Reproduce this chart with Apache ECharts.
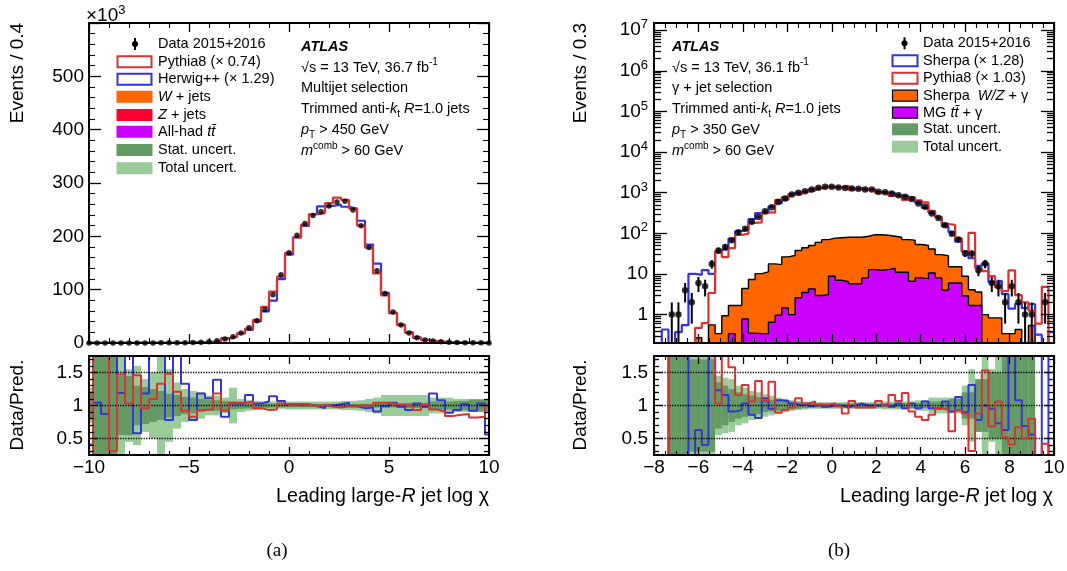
<!DOCTYPE html>
<html>
<head>
<meta charset="utf-8">
<script src="https://cdn.jsdelivr.net/npm/echarts@6.0.0/dist/echarts.min.js"></script>
<style>
html,body{margin:0;padding:0;background:#fff;}
#chart{width:1067px;height:571px;}
</style>
</head>
<body>
<div id="chart"></div>
<script>
// ================= Panel (a): multijet selection (bin width 0.4) =================
const aBins = [-10,-9.6,-9.2,-8.8,-8.4,-8,-7.6,-7.2,-6.8,-6.4,-6,-5.6,-5.2,-4.8,-4.4,-4,-3.6,-3.2,-2.8,-2.4,-2,-1.6,-1.2,-0.8,-0.4,
  0,0.4,0.8,1.2,1.6,2,2.4,2.8,3.2,3.6,4,4.4,4.8,5.2,5.6,6,6.4,6.8,7.2,7.6,8,8.4,8.8,9.2,9.6,10];
// events in thousands
const aData = [0.05,0.05,0.06,0.07,0.08,0.1,0.12,0.15,0.2,0.25,0.3,0.4,0.55,0.8,1.5,2.4,4.3,7.5,11.8,18.8,28.7,41.8,63,90.6,128,
  169,202,224,239,246,257,264.5,265.7,249.5,220,179,135.6,93,58,33.8,18.8,10,5.6,3.7,2.2,1.4,0.9,0.6,0.4,0.3,0.2];
const aPythia = [0.06,0.02,0.024,0.23,0.054,0.097,0.082,0.156,0.18,0.19,0.2,0.33,0.6,0.96,1.61,2.55,3.64,8.15,11.35,18.08,27.08,43.54,67.74,96.38,124.3,
  169,198,221.8,241.4,243.6,262.2,272.7,268.4,252,220,179,130.4,89.4,56.9,33.5,19,10.75,5.5,3.9,2.4,1.67,1.05,0.69,0.49,0.36,0.2];
const aHerwig = [0.12,0.048,0.069,0.03,0.067,0.04,0.21,0.13,0.08,0.1,0.38,0.16,0.41,1.03,1.27,2.16,3.09,9.04,11.46,18.25,24.74,40.58,59.43,79.47,119.6,
  165.7,198,219.6,241.4,256.3,257,259.3,255.5,252,229.2,184.5,149,93.9,55.8,34.5,20.2,9.7,5.7,3.14,2.04,1.57,0.97,0.59,0.43,0.29,0.36];
const aWjets = [0,0,0,0,0,0,0,0,0,0,0,0,0,0,0,0,0,0,0,0,0,0,0,0,0,0,0,
  0.4,0.6,0.8,1.0,1.1,1.2,1.2,1.1,1.0,0.8,0.6,0.4,0.2,0,0,0,0,0,0,0,0,0,0,0];
const aZjets = [0,0,0,0,0,0,0,0,0,0,0,0,0,0,0,0,0,0,0,0,0,0,0,0,0,0,0,0,0,
  0.3,0.3,0.3,0.3,0.3,0.3,0.3,0.3,0.3,0,0,0,0,0,0,0,0,0,0,0,0,0];
const aTtbar = [0,0,0,0,0,0,0,0,0,0,0,0,0,0,0,0,0,0,0,0,0,0,0,0,0,0,0,0,0,0,0,0,0,
  1.4,1.6,1.6,1.5,1.3,1.0,0,0,0,0,0,0,0,0,0,0,0,0];
const aRatioPythia = [0,2.5,2.5,0.31,1.47,1.03,1.46,0.96,1.1,1.33,1.48,1.21,0.92,0.83,0.93,0.94,1.18,0.92,1.04,1.04,1.06,0.96,0.93,0.94,1.03,
  1.0,1.02,1.01,0.99,1.01,0.98,0.97,0.99,0.99,1.0,1.0,1.04,1.04,1.02,1.01,0.99,0.93,1.01,0.94,0.91,0.84,0.86,0.87,0.82,0.83,1.0];
const aRatioHerwig = [0.41,1.04,0.87,2.5,1.19,2.5,0.58,1.18,2.5,2.5,0.78,2.5,1.33,0.78,1.18,1.11,1.39,0.83,1.03,1.03,1.16,1.03,1.06,1.14,1.07,
  1.02,1.02,1.02,0.99,0.96,1.0,1.02,1.04,0.99,0.96,0.97,0.91,0.99,1.04,0.98,0.93,1.03,0.98,1.18,1.08,0.89,0.93,1.02,0.92,1.03,0.56];
const aStatUnc = [0.2,0.9,0.9,0.9,0.45,0.45,0.3,0.28,0.25,0.22,0.18,0.16,0.13,0.12,0.1,0.08,0.08,0.07,0.06,0.05,0.045,0.04,0.035,0.03,0.03,
  0.025,0.025,0.025,0.025,0.025,0.025,0.025,0.025,0.025,0.025,0.025,0.03,0.03,0.03,0.03,0.04,0.04,0.04,0.06,0.06,0.06,0.07,0.07,0.09,0.09,0.09];
const aTotalUnc = [0.27,0.9,0.9,0.9,0.9,0.55,0.6,0.4,0.5,0.9,0.55,0.35,0.25,0.22,0.2,0.15,0.15,0.12,0.27,0.1,0.08,0.07,0.06,0.06,0.05,
  0.06,0.06,0.06,0.06,0.06,0.06,0.06,0.07,0.07,0.08,0.1,0.12,0.16,0.16,0.16,0.16,0.16,0.16,0.12,0.12,0.12,0.1,0.1,0.1,0.1,0.1];

// ================= Panel (b): gamma + jet selection (bin width 0.3) =================
const bBins = [-8.1,-7.8,-7.5,-7.2,-6.9,-6.6,-6.3,-6,-5.7,-5.4,-5.1,-4.8,-4.5,-4.2,-3.9,-3.6,-3.3,-3,-2.7,-2.4,-2.1,-1.8,-1.5,-1.2,-0.9,-0.6,-0.3,
  0,0.3,0.6,0.9,1.2,1.5,1.8,2.1,2.4,2.7,3,3.3,3.6,3.9,4.2,4.5,4.8,5.1,5.4,5.7,6,6.3,6.6,6.9,7.2,7.5,7.8,8.1,8.4,8.7,9,9.3,9.6,9.9];
const bData = [null,null,null,1,1,4,2,6,5,17.7,37.8,46,68,106,129,192,254,350,440,594,720,900,1000,1090,1190,1320,1395,
  1395,1350,1300,1265,1250,1190,1190,1050,1030,960,870,790,700,540,450,307,240,158,98,70,32,32,12.3,18,6,5,2,5,2,1,1,null,2,null];
const bDataErr = [0,0,0,1,1,2,1.4,2.4,2.2,4.2,6.1,6.8,8.2,10.3,11.4,13.9,15.9,18.7,21,24.4,26.8,30,31.6,33,34.5,36.3,37.3,
  37.3,36.7,36,35.6,35.4,34.5,34.5,32.4,32.1,31,29.5,28.1,26.5,23.2,21.2,17.5,15.5,12.6,9.9,8.4,5.7,5.7,3.5,4.2,2.4,2.2,1.4,2.2,1.4,1,1,0,1.4,0];
const bSherpa = [0.01,0.01,0.43,0.1,0.37,0.55,10,9.5,12.5,10,34,39.7,74.7,114,125,223,313.6,315,463,550,673,874,1000,1058,1202,1294,1423,
  1395,1350,1340,1265,1214,1190,1190,1050,1010,980,845,823,680,562,425,320,253,149,108,62,35.6,24.4,15.8,18,6.3,6.8,3.2,1.4,1.85,1.45,1.8,0.32,0.15,0.37];
const bPythia = [0.01,0.01,0.01,0.01,0.01,0.01,0.01,0.47,0.62,3.4,36.7,26,43,91,98,181,185,327,323,667,774,928,900,1058,1123,1307,1381,
  1354,1364,1477,1182,1289,1227,1227,981,1030,828,813,664,769,651,577,357,250,170,161,75,36,103,14,11.8,8.8,4.7,3.8,12.2,3.0,2.0,1.25,0.6,4.8,0.1];
const bWZgamma = [0.001,0.001,0.001,0.001,0.001,0.001,0.001,0.27,0.001,0.56,0.34,0.94,1.67,1.67,4.4,7.3,10.2,11.3,17.7,17,26.4,28.5,37.7,44,50,60,70,
  76,78,80,80,80,85,93,92,90,85,80,70,68,53,50,41,30,28,15,15,8.8,4.1,3.6,1.0,0.83,0.83,0.34,0.34,0.43,0.001,0.54,0.001,0.001,0.001];
const bTtgamma = [0.001,0.001,0.001,0.001,0.001,0.001,0.001,0.001,0.001,0.001,0.001,0.001,0.34,0.001,0.78,0.35,0.34,0.34,0.65,0.96,1.46,1.0,2.6,3.5,4.3,2.94,3.1,
  8.8,7.0,6.5,5.7,5.7,8.0,12.8,12.3,12.8,13.8,11,11,6.6,8,7.7,10.6,8,4.0,6,6,2.9,1.67,1.67,0.001,0.001,0.001,0.001,0.001,0.001,0.001,0.001,0.001,0.001,0.001];
const bRatioSherpa = [0,0,0,2.5,2.5,2.5,0.2,0.63,0.4,2.5,1.23,1.16,0.91,0.93,1.03,0.86,0.81,1.11,0.95,1.08,1.07,1.03,1.0,1.03,0.99,1.02,0.98,
  1.0,1.0,0.97,1.0,1.03,1.0,1.0,1.0,1.02,0.98,1.03,0.96,1.03,0.96,1.06,0.96,0.95,1.06,0.91,1.13,0.9,1.31,0.78,1.0,0.95,0.73,0.63,2.5,1.08,0.69,0.56,0,2.5,0];
const bRatioPythia = [0,0,0,2.5,2.5,2.5,2.5,2.5,2.5,2.5,1.03,2.5,1.58,1.16,1.31,1.06,1.37,1.07,1.36,0.89,0.93,0.97,1.11,1.03,1.06,1.01,1.01,
  1.03,0.99,0.88,1.07,0.97,0.97,0.97,1.07,1.0,1.16,1.07,1.19,0.91,0.83,0.78,0.86,0.96,0.93,0.61,0.93,0.88,0.31,0.88,1.53,0.68,1.06,0.52,0.41,0.67,0.5,0.8,0,0.42,0];
const bStatUnc = [0,0,0,0.9,0.9,0.9,0.7,0.7,0.7,0.7,0.35,0.3,0.25,0.2,0.17,0.15,0.13,0.1,0.09,0.08,0.07,0.06,0.05,0.04,0.03,0.03,0.03,
  0.03,0.03,0.03,0.03,0.03,0.03,0.03,0.03,0.03,0.03,0.03,0.04,0.04,0.04,0.04,0.06,0.06,0.06,0.1,0.1,0.2,0.2,0.4,0.4,0.5,0.5,0.75,0.75,0.75,0.75,0.75,0,0,0];
const bTotalUnc = [0,0,0,0.9,0.9,0.9,0.75,0.8,0.8,0.8,0.45,0.42,0.4,0.3,0.27,0.22,0.2,0.17,0.15,0.12,0.1,0.08,0.07,0.06,0.05,0.05,0.05,
  0.05,0.05,0.05,0.05,0.05,0.05,0.05,0.05,0.06,0.06,0.06,0.06,0.06,0.08,0.08,0.12,0.12,0.12,0.12,0.12,0.3,0.55,0.35,0.75,0.55,0.85,0.85,0.85,0.85,0.85,0.85,0,0,0];

// ================= tick labels =================
const aXTicks = [-10, -5, 0, 5, 10];
const bXTicks = [-8, -6, -4, -2, 0, 2, 4, 6, 8, 10];
const aYTicks = [0, 100, 200, 300, 400, 500];
const bLogTicks = [1, 10, 100, 1e3, 1e4, 1e5, 1e6, 1e7];
const ratioTicks = [0.5, 1, 1.5];
const ratioMinorTicks = [0.3,0.4,0.6,0.7,0.8,0.9,1.1,1.2,1.3,1.4,1.6,1.7];
const ratioRefLines = [0.5, 1, 1.5];

// ================= helpers =================
const FONT = '"Liberation Sans", Arial, Helvetica, sans-serif';
const RED = '#d83232', BLUE = '#3434d8', ORANGE = '#ff6600', ZRED = '#ff0033', MAGENTA = '#cc00ff';
const DKGREEN = '#649a64', LTGREEN = '#99cc99';

const bLogMinor = [];
[0.1, 1, 10, 100, 1e3, 1e4, 1e5, 1e6].forEach(d => { for (let m = 2; m <= 9; m++) { const v = m * d; if (v > 0.2 && v < 1.5e7) bLogMinor.push(v); } });

function stepPoints(bins, vals) {
  const hw = (bins[1] - bins[0]) / 2;
  const pts = bins.map((c, i) => [c - hw, vals[i]]);
  pts.push([bins[bins.length - 1] + hw, vals[vals.length - 1]]);
  return pts;
}
function histLine(xi, yi, bins, vals, color, width, z, fill, outline) {
  const s = {
    type: 'line', xAxisIndex: xi, yAxisIndex: yi, step: 'end', symbol: 'none', showSymbol: false,
    clip: true, silent: true, z: z, data: stepPoints(bins, vals),
    lineStyle: { color: outline || color, width: width }
  };
  if (fill) s.areaStyle = { color: fill, opacity: 1, origin: 'start' };
  return s;
}
function band(xi, yi, bins, half, color, z, extra) {
  const w = bins[1] - bins[0];
  const s = {
    type: 'custom', xAxisIndex: xi, yAxisIndex: yi, z: z, silent: true,
    data: bins.map((c, i) => [c, half[i]]),
    renderItem: function (params, api) {
      const c = api.value(0), h = api.value(1);
      if (!h) return null;
      const p1 = api.coord([c - w / 2, 1 + h]);
      const p2 = api.coord([c + w / 2, 1 - h]);
      const shape = echarts.graphic.clipRectByRect(
        { x: p1[0], y: p1[1], width: p2[0] - p1[0], height: p2[1] - p1[1] },
        { x: params.coordSys.x, y: params.coordSys.y, width: params.coordSys.width, height: params.coordSys.height });
      if (!shape) return null;
      return { type: 'rect', shape: shape, style: { fill: color } };
    }
  };
  return Object.assign(s, extra || {});
}
function errorBars(xi, yi, bins, vals, errs, z) {
  const data = [];
  bins.forEach((c, i) => { if (vals[i] != null && errs[i]) data.push([c, vals[i], errs[i]]); });
  return {
    type: 'custom', xAxisIndex: xi, yAxisIndex: yi, z: z, silent: true, data: data,
    renderItem: function (params, api) {
      const x = api.value(0), y = api.value(1), e = api.value(2);
      const cs = params.coordSys;
      const lo = Math.max(y - e, 1e-4);
      const p1 = api.coord([x, lo]), p2 = api.coord([x, y + e]);
      const clampY = v => Math.min(Math.max(v, cs.y), cs.y + cs.height);
      return { type: 'line', shape: { x1: p1[0], y1: clampY(p1[1]), x2: p2[0], y2: clampY(p2[1]) }, style: { stroke: '#000', lineWidth: 2 } };
    }
  };
}
function dataPoints(xi, yi, bins, vals, size, z) {
  const d = [];
  bins.forEach((c, i) => { if (vals[i] != null) d.push([c, vals[i]]); });
  return { type: 'scatter', xAxisIndex: xi, yAxisIndex: yi, z: z, silent: true, data: d, symbol: 'circle', symbolSize: size, itemStyle: { color: '#000' }, clip: true };
}
const fmtNum = v => (v < 0 ? '\u2212' + (-v) : String(v));
const labelStyle = { fontSize: 19, fontFamily: FONT, color: '#000' };

function xAx(gridIndex, pos, min, max, interval, minorSplit, labels, tl, ml) {
  return {
    type: 'value', gridIndex: gridIndex, position: pos, min: min, max: max, interval: interval, z: 10,
    axisLine: { show: true, onZero: false, lineStyle: { color: '#000', width: 2 } },
    axisTick: { show: true, inside: true, length: tl, lineStyle: { color: '#000', width: 1.3 } },
    minorTick: { show: true, splitNumber: minorSplit, length: ml, lineStyle: { color: '#000', width: 1.1 } },
    splitLine: { show: false }, minorSplitLine: { show: false },
    axisLabel: labels ? Object.assign({ show: true, margin: 3, formatter: fmtNum }, labelStyle) : { show: false }
  };
}
function yLin(gridIndex, pos, labels) {
  return {
    type: 'value', gridIndex: gridIndex, position: pos, min: 0, max: 600, interval: 100, z: 10,
    axisLine: { show: true, onZero: false, lineStyle: { color: '#000', width: 2 } },
    axisTick: { show: true, inside: true, length: 12, lineStyle: { color: '#000', width: 1.3 } },
    minorTick: { show: true, splitNumber: 5, length: 6, lineStyle: { color: '#000', width: 1.1 } },
    splitLine: { show: false }, minorSplitLine: { show: false },
    axisLabel: labels ? Object.assign({ show: true, margin: 5, customValues: aYTicks }, labelStyle) : { show: false }
  };
}
function yCustom(gridIndex, pos, type, min, max, ticks, len, labels, formatter, rich) {
  const ax = {
    type: type, gridIndex: gridIndex, position: pos, min: min, max: max, z: 10,
    axisLine: { show: true, onZero: false, lineStyle: { color: '#000', width: 2 } },
    axisTick: { show: true, inside: true, length: len, customValues: ticks, lineStyle: { color: '#000', width: 1.3 } },
    minorTick: { show: false }, splitLine: { show: false }, minorSplitLine: { show: false },
    axisLabel: { show: false }
  };
  if (type === 'log') ax.logBase = 10;
  if (labels) ax.axisLabel = Object.assign({ show: true, margin: 6, customValues: ticks, formatter: formatter, rich: rich }, labelStyle);
  return ax;
}
const logFmt = v => {
  const e = Math.round(Math.log10(v));
  if (Math.abs(Math.log10(v) - e) > 1e-6) return '';
  if (e === 0) return '{b|1}';
  if (e === 1) return '{b|10}';
  return '{b|10}{s|' + e + '}';
};
const logRich = {
  b: { fontSize: 19, fontFamily: FONT, color: '#000', lineHeight: 24 },
  s: { fontSize: 13, fontFamily: FONT, color: '#000', lineHeight: 13, verticalAlign: 'top' }
};
const ratioFmt = v => String(v);

// ---------- text (graphic) ----------
function rich(size) {
  const base = { fontSize: size, fontFamily: FONT, fill: '#000', lineHeight: size + 6 };
  return {
    n: base,
    i: Object.assign({}, base, { fontStyle: 'italic' }),
    ib: Object.assign({}, base, { fontStyle: 'italic', fontWeight: 'bold' }),
    sup: { fontSize: Math.round(size * 0.68), fontFamily: FONT, fill: '#000', lineHeight: Math.round(size * 0.68), verticalAlign: 'top' },
    sub: { fontSize: Math.round(size * 0.68), fontFamily: FONT, fill: '#000', lineHeight: Math.round(size * 0.5), verticalAlign: 'bottom' },
    serif: { fontSize: size, fontFamily: '"Liberation Serif", "Times New Roman", serif', fill: '#000', lineHeight: size + 6 }
  };
}
function T(x, y, text, size, align, rot) {
  const el = {
    type: 'text', x: x, y: y, z: 100, silent: true,
    style: { text: text, rich: rich(size), align: align || 'left', verticalAlign: 'middle', fill: '#000', font: size + 'px ' + FONT }
  };
  if (rot) el.rotation = rot;
  return el;
}
function box(x, y, w, h, fill, stroke, lw) {
  return { type: 'rect', z: 100, silent: true, shape: { x: x, y: y, width: w, height: h }, style: { fill: fill, stroke: stroke || null, lineWidth: lw || 0 } };
}
function dataMarker(x, y) {
  return [
    { type: 'line', z: 100, silent: true, shape: { x1: x, y1: y - 6, x2: x, y2: y + 6 }, style: { stroke: '#000', lineWidth: 2 } },
    { type: 'circle', z: 101, silent: true, shape: { cx: x, cy: y, r: 3 }, style: { fill: '#000' } }
  ];
}

const LS = 14.5; // legend/info font size
const graphics = [];
// ---- panel (a) texts ----
graphics.push(T(86, 16, '{n|\u00d710}{sup|3}', 19));
graphics.push(T(18, 73, '{n|Events / 0.4}', 19, 'center', Math.PI / 2));
graphics.push(T(18, 405, '{n|Data/Pred.}', 19, 'center', Math.PI / 2));
graphics.push(T(489, 497, '{n|Leading large-}{i|R}{n| jet log \u03c7}', 19.6, 'right'));
graphics.push(T(277, 551, '{serif|(a)}', 19, 'center'));
[
  '{ib|ATLAS}',
  '{n|\u221as = 13 TeV, 36.7 fb}{sup|-1}',
  '{n|Multijet selection}',
  '{n|Trimmed anti-}{i|k}{sub|t}{n| }{i|R}{n|=1.0 jets}',
  '{i|p}{sub|T}{n| > 450 GeV}',
  '{i|m}{sup|comb}{n| > 60 GeV}'
].forEach((t, i) => graphics.push(T(301, [46.5, 67.5, 88, 109, 130, 151][i], t, LS)));
const aLegY = [44, 61.7, 79.3, 96.7, 115, 131.7, 150, 168.3];
graphics.push(...dataMarker(135, aLegY[0]));
graphics.push(box(117.5, aLegY[1] - 5.5, 34, 11, '#fff', RED, 2));
graphics.push(box(117.5, aLegY[2] - 5.5, 34, 11, '#fff', BLUE, 2));
graphics.push(box(116.5, aLegY[3] - 6, 36, 12, ORANGE));
graphics.push(box(116.5, aLegY[4] - 6, 36, 12, ZRED));
graphics.push(box(116.5, aLegY[5] - 6, 36, 12, MAGENTA));
graphics.push(box(116.5, aLegY[6] - 6, 36, 12, DKGREEN));
graphics.push(box(116.5, aLegY[7] - 6, 36, 12, LTGREEN));
[
  '{n|Data 2015+2016}', '{n|Pythia8 (\u00d7 0.74)}', '{n|Herwig++ (\u00d7 1.29)}', '{i|W}{n| + jets}', '{i|Z}{n| + jets}',
  '{n|All-had }{i|tt\u0304}', '{n|Stat. uncert.}', '{n|Total uncert.}'
].forEach((t, i) => graphics.push(T(158, aLegY[i], t, LS)));

// ---- panel (b) texts ----
graphics.push(T(581, 73, '{n|Events / 0.3}', 19, 'center', Math.PI / 2));
graphics.push(T(581, 405, '{n|Data/Pred.}', 19, 'center', Math.PI / 2));
graphics.push(T(1053, 497, '{n|Leading large-}{i|R}{n| jet log \u03c7}', 19.6, 'right'));
graphics.push(T(839, 551, '{serif|(b)}', 19, 'center'));
[
  '{ib|ATLAS}',
  '{n|\u221as = 13 TeV, 36.1 fb}{sup|-1}',
  '{n|\u03b3 + jet selection}',
  '{n|Trimmed anti-}{i|k}{sub|t}{n| }{i|R}{n|=1.0 jets}',
  '{i|p}{sub|T}{n| > 350 GeV}',
  '{i|m}{sup|comb}{n| > 60 GeV}'
].forEach((t, i) => graphics.push(T(672, [46.5, 67.5, 88, 109, 130, 151][i], t, LS)));
const bLegY = [43.3, 60.7, 78.3, 95.7, 112.7, 129.3, 146.7];
graphics.push(...dataMarker(904.5, bLegY[0]));
graphics.push(box(892.5, bLegY[1] - 5.5, 25, 11, '#fff', BLUE, 2));
graphics.push(box(892.5, bLegY[2] - 5.5, 25, 11, '#fff', RED, 2));
graphics.push(box(892.5, bLegY[3] - 5.5, 25, 11, ORANGE, '#000', 1.2));
graphics.push(box(892.5, bLegY[4] - 5.5, 25, 11, MAGENTA, '#000', 1.2));
graphics.push(box(892, bLegY[5] - 6, 26, 12, DKGREEN));
graphics.push(box(892, bLegY[6] - 6, 26, 12, LTGREEN));
[
  '{n|Data 2015+2016}', '{n|Sherpa (\u00d7 1.28)}', '{n|Pythia8 (\u00d7 1.03)}', '{n|Sherpa  }{i|W/Z}{n| + \u03b3}',
  '{n|MG }{i|tt\u0304}{n| + \u03b3}', '{n|Stat. uncert.}', '{n|Total uncert.}'
].forEach((t, i) => graphics.push(T(923, bLegY[i], t, LS)));

// ================= option =================
const option = {
  animation: false,
  backgroundColor: '#ffffff',
  grid: [
    { left: 89, top: 23, width: 400, height: 320, containLabel: false, outerBoundsMode: 'none' },
    { left: 89, top: 356, width: 400, height: 99, containLabel: false, outerBoundsMode: 'none' },
    { left: 654, top: 23, width: 400, height: 320, containLabel: false, outerBoundsMode: 'none' },
    { left: 654, top: 356, width: 400, height: 99, containLabel: false, outerBoundsMode: 'none' }
  ],
  xAxis: [
    xAx(0, 'bottom', -10, 10, 5, 5, false, 9, 5),
    xAx(0, 'top', -10, 10, 5, 5, false, 9, 5),
    xAx(1, 'bottom', -10, 10, 5, 5, true, 8, 4),
    xAx(1, 'top', -10, 10, 5, 5, false, 8, 4),
    xAx(2, 'bottom', -8, 10, 2, 4, false, 9, 5),
    xAx(2, 'top', -8, 10, 2, 4, false, 9, 5),
    xAx(3, 'bottom', -8, 10, 2, 4, true, 8, 4),
    xAx(3, 'top', -8, 10, 2, 4, false, 8, 4)
  ],
  yAxis: [
    yLin(0, 'left', true),                                                    // 0
    yLin(0, 'right', false),                                                  // 1
    yCustom(1, 'left', 'value', 0.25, 1.75, ratioTicks, 9, true, ratioFmt),   // 2
    yCustom(1, 'left', 'value', 0.25, 1.75, ratioMinorTicks, 5, false),       // 3
    yCustom(1, 'right', 'value', 0.25, 1.75, ratioTicks, 9, false),           // 4
    yCustom(1, 'right', 'value', 0.25, 1.75, ratioMinorTicks, 5, false),      // 5
    yCustom(2, 'left', 'log', 0.2, 1.5e7, bLogTicks, 13, true, logFmt, logRich), // 6
    yCustom(2, 'left', 'log', 0.2, 1.5e7, bLogMinor, 7, false),               // 7
    yCustom(2, 'right', 'log', 0.2, 1.5e7, bLogTicks, 13, false),             // 8
    yCustom(2, 'right', 'log', 0.2, 1.5e7, bLogMinor, 7, false),              // 9
    yCustom(3, 'left', 'value', 0.25, 1.75, ratioTicks, 9, true, ratioFmt),   // 10
    yCustom(3, 'left', 'value', 0.25, 1.75, ratioMinorTicks, 5, false),       // 11
    yCustom(3, 'right', 'value', 0.25, 1.75, ratioTicks, 9, false),           // 12
    yCustom(3, 'right', 'value', 0.25, 1.75, ratioMinorTicks, 5, false)       // 13
  ],
  series: [
    // ---- (a) main ----
    histLine(0, 0, aBins, aWjets, ORANGE, 0, 2, ORANGE),
    histLine(0, 0, aBins, aZjets, ZRED, 0, 2, ZRED),
    histLine(0, 0, aBins, aTtbar, MAGENTA, 0, 2, MAGENTA),
    histLine(0, 0, aBins, aHerwig, BLUE, 2.2, 3),
    histLine(0, 0, aBins, aPythia, RED, 2.2, 4),
    dataPoints(0, 0, aBins, aData, 5.5, 6),
    // ---- (a) ratio ----
    band(2, 2, aBins, aTotalUnc, LTGREEN, 2),
    band(2, 2, aBins, aStatUnc, DKGREEN, 3, {
      markLine: { silent: true, symbol: 'none', label: { show: false }, animation: false,
        lineStyle: { color: '#000', type: 'dotted', width: 1.3 }, data: ratioRefLines.map(v => ({ yAxis: v })) }
    }),
    histLine(2, 2, aBins, aRatioHerwig, BLUE, 2, 4),
    histLine(2, 2, aBins, aRatioPythia, RED, 2, 5),
    // ---- (b) main ----
    histLine(4, 6, bBins, bWZgamma, ORANGE, 1.4, 2, ORANGE, '#000'),
    histLine(4, 6, bBins, bTtgamma, MAGENTA, 1.4, 2, MAGENTA, '#000'),
    histLine(4, 6, bBins, bSherpa, BLUE, 2.2, 3),
    histLine(4, 6, bBins, bPythia, RED, 2.2, 4),
    errorBars(4, 6, bBins, bData, bDataErr, 5),
    dataPoints(4, 6, bBins, bData, 6.5, 6),
    // ---- (b) ratio ----
    band(6, 10, bBins, bTotalUnc, LTGREEN, 2),
    band(6, 10, bBins, bStatUnc, DKGREEN, 3, {
      markLine: { silent: true, symbol: 'none', label: { show: false }, animation: false,
        lineStyle: { color: '#000', type: 'dotted', width: 1.3 }, data: ratioRefLines.map(v => ({ yAxis: v })) }
    }),
    histLine(6, 10, bBins, bRatioSherpa, BLUE, 2, 4),
    histLine(6, 10, bBins, bRatioPythia, RED, 2, 5)
  ],
  graphic: graphics
};

const chart = echarts.init(document.getElementById('chart'), null, { renderer: 'canvas' });
chart.setOption(option);
</script>
</body>
</html>
